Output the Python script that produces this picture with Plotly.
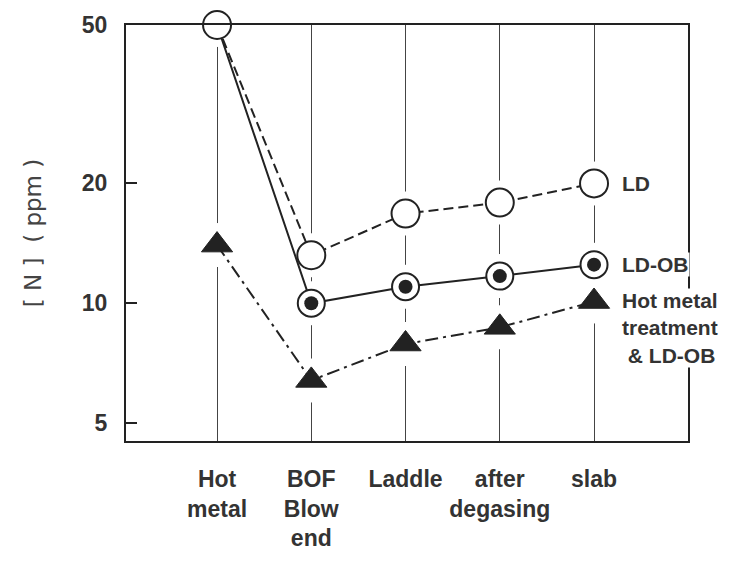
import numpy as np
import plotly.graph_objects as go

categories = ["Hot<br>metal", "BOF<br>Blow<br>end", "Laddle", "after<br>degasing", "slab"]
ld = [50, 13.2, 16.8, 17.9, 20.0]
ld_ob = [50, 10.0, 11.0, 11.7, 12.5]
hmt_ld_ob = [14.0, 6.4, 7.9, 8.7, 10.1]
y_ticks = [5, 10, 20, 50]

x = list(range(len(categories)))
INK = "#222222"
FONT = "Liberation Sans"

fig = go.Figure()

# white halos masking the vertical grid lines around the markers
for ys in (ld, ld_ob[1:], hmt_ld_ob):
    xs = x if len(ys) == len(x) else x[1:]
    fig.add_trace(go.Scatter(x=xs, y=ys, mode="markers", cliponaxis=False,
                             marker=dict(size=44, color="white", line=dict(width=0)),
                             hoverinfo="skip", showlegend=False))

# connecting lines
fig.add_trace(go.Scatter(x=x, y=ld, mode="lines", name="LD",
                         line=dict(color=INK, width=2, dash="10px,5px"), showlegend=False))
fig.add_trace(go.Scatter(x=x, y=ld_ob, mode="lines", name="LD-OB",
                         line=dict(color=INK, width=2), showlegend=False))
fig.add_trace(go.Scatter(x=x, y=hmt_ld_ob, mode="lines", name="Hot metal treatment & LD-OB",
                         line=dict(color=INK, width=2, dash="13px,5px,3px,5px"), showlegend=False))

# markers
fig.add_trace(go.Scatter(x=x[1:], y=ld_ob[1:], mode="markers", cliponaxis=False,
                         marker=dict(symbol="circle", size=27, color="white",
                                     line=dict(color=INK, width=2)), showlegend=False))
fig.add_trace(go.Scatter(x=x[1:], y=ld_ob[1:], mode="markers", cliponaxis=False,
                         marker=dict(symbol="circle", size=14, color=INK,
                                     line=dict(width=0)), showlegend=False))
fig.add_trace(go.Scatter(x=x, y=ld, mode="markers", cliponaxis=False,
                         marker=dict(symbol="circle", size=28, color="white",
                                     line=dict(color=INK, width=2)), showlegend=False))
fig.add_trace(go.Scatter(x=x, y=hmt_ld_ob, mode="markers", cliponaxis=False,
                         marker=dict(symbol="triangle-up", size=27, color=INK,
                                     line=dict(color=INK, width=1)), showlegend=False))

# series labels on the right
lab_font = dict(family=FONT, size=21, color="#333333", weight="bold")
fig.add_annotation(x=4, y=np.log10(ld[-1]), text="LD", showarrow=False,
                   xanchor="left", yanchor="middle", xshift=27, font=lab_font,
                   bgcolor="white", borderpad=0)
fig.add_annotation(x=4, y=np.log10(ld_ob[-1]), text="LD-OB", showarrow=False,
                   xanchor="left", yanchor="middle", xshift=27, font=lab_font,
                   bgcolor="white", borderpad=0)
fig.add_annotation(x=4, y=np.log10(hmt_ld_ob[-1]),
                   text="Hot metal<br>treatment<br> & LD-OB", showarrow=False,
                   xanchor="left", yanchor="top", yshift=14, xshift=27, align="left",
                   font=lab_font, bgcolor="white", borderpad=0)

# y-axis title
fig.add_annotation(xref="paper", yref="paper", x=-0.165, y=0.5,
                   text="[ N ]  ( ppm )",
                   textangle=-90, showarrow=False, xanchor="center", yanchor="middle",
                   font=dict(family="DejaVu Sans", size=23, color="#444444"))

fig.update_layout(
    width=742, height=563,
    margin=dict(l=126, r=54, t=23, b=122),
    paper_bgcolor="white", plot_bgcolor="white",
    font=dict(family=FONT, color="#333333"),
    xaxis=dict(range=[-0.966, 4.997], tickvals=x, ticktext=categories,
               showgrid=True, gridcolor="#444444", gridwidth=1,
               showline=True, mirror=True, linecolor=INK, linewidth=2,
               ticks="outside", ticklen=16, tickcolor="rgba(0,0,0,0)",
               tickfont=dict(family=FONT, size=23, color="#333333", weight="bold"),
               zeroline=False, fixedrange=True),
    yaxis=dict(type="log", range=[np.log10(5) - 0.045, np.log10(50)],
               tickvals=y_ticks, ticktext=[str(v) for v in y_ticks],
               showgrid=False, showline=True, mirror=True, linecolor=INK, linewidth=2,
               ticks="inside", ticklen=11, tickwidth=2, tickcolor=INK,
               ticklabelstandoff=12,
               tickfont=dict(family=FONT, size=23, color="#333333", weight="bold"),
               zeroline=False, fixedrange=True),
)

fig.write_html("out.html")
